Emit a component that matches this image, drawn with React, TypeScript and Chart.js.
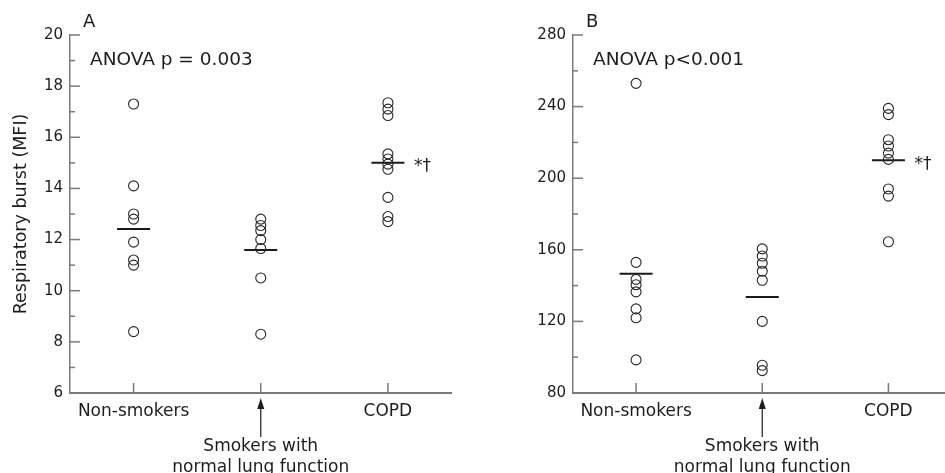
import React, { useEffect, useRef } from 'react';
import { Chart, registerables } from 'chart.js';

Chart.register(...registerables);

// ---------- data ----------
const categories = ['Non-smokers', 'Smokers with normal lung function', 'COPD'];
const smokersLabelLines = ['Smokers with', 'normal lung function'];

const burstA_nonSmokers = [17.3, 14.1, 13.0, 12.8, 11.9, 11.2, 11.0, 8.4];
const burstA_smokers = [12.8, 12.55, 12.35, 12.0, 11.65, 10.5, 8.3];
const burstA_copd = [17.35, 17.1, 16.85, 15.35, 15.15, 14.95, 14.75, 13.65, 12.9, 12.7];
const burstA_means = [12.41, 11.59, 15.0];

const burstB_nonSmokers = [253, 153, 143.5, 140.5, 136.5, 127, 122, 98.5];
const burstB_smokers = [160.5, 156.5, 152.5, 148, 143, 120, 95.5, 92.5];
const burstB_copd = [239, 235.5, 221.5, 218, 214, 210.5, 194, 190, 164.5];
const burstB_means = [146.6, 133.6, 210.0];

const yRangeA = [6, 20];
const yStepsA = [2, 1]; // major, minor
const yRangeB = [80, 280];
const yStepsB = [40, 20];

const panelLetters = ['A', 'B'];
const anovaTexts = ['ANOVA p = 0.003', 'ANOVA p<0.001'];
const significanceMark = '*\u2020';
const yTitle = 'Respiratory burst (MFI)';

// ---------- styles ----------
const FONT = "'DejaVu Sans', 'Liberation Sans', sans-serif";
const TEXT = '#1f1c1d';
const AXIS = '#7a7a7a';

const toPoints = (groups: number[][]) =>
  groups.flatMap((vals, i) => vals.map((v) => ({ x: categories[i], y: v })));

const decorPlugin = {
  id: 'decor',
  afterDraw(chart: any, _args: any, opts: any) {
    const ctx = chart.ctx;
    const xs = chart.scales.x;
    const ys = chart.scales.y;
    const { left, bottom, top } = chart.chartArea;
    ctx.save();
    // y ticks (inward)
    ctx.strokeStyle = AXIS;
    ctx.lineWidth = 1.5;
    const [min, max] = opts.range;
    const [major, minor] = opts.steps;
    const ratio = Math.round(major / minor);
    const n = Math.round((max - min) / minor);
    for (let k = 0; k <= n; k++) {
      const v = min + k * minor;
      const y = ys.getPixelForValue(v);
      const len = k % ratio === 0 ? 10 : 5;
      ctx.beginPath();
      ctx.moveTo(left, y);
      ctx.lineTo(left + len, y);
      ctx.stroke();
    }
    // x ticks (inward)
    for (let i = 0; i < categories.length; i++) {
      const x = xs.getPixelForTick(i);
      ctx.beginPath();
      ctx.moveTo(x, bottom);
      ctx.lineTo(x, bottom - 10);
      ctx.stroke();
    }
    ctx.fillStyle = TEXT;
    ctx.strokeStyle = TEXT;
    // panel letter
    ctx.font = `18px ${FONT}`;
    ctx.textAlign = 'left';
    ctx.textBaseline = 'alphabetic';
    ctx.fillText(opts.letter, left + 13, top - 8);
    // ANOVA
    ctx.font = `18.5px ${FONT}`;
    ctx.fillText(opts.anova, left + 20, top + 30);
    // significance mark
    const cx = xs.getPixelForTick(2);
    ctx.font = `17px ${FONT}`;
    ctx.textBaseline = 'middle';
    ctx.fillText(significanceMark, cx + 26, ys.getPixelForValue(opts.means[2]) + 4);
    // smokers label with arrow
    const sx = xs.getPixelForTick(1);
    ctx.lineWidth = 1.2;
    ctx.beginPath();
    ctx.moveTo(sx, bottom + 14);
    ctx.lineTo(sx, bottom + 44);
    ctx.stroke();
    ctx.beginPath();
    ctx.moveTo(sx, bottom + 5);
    ctx.lineTo(sx - 3.5, bottom + 16);
    ctx.lineTo(sx + 3.5, bottom + 16);
    ctx.closePath();
    ctx.fill();
    ctx.font = `17px ${FONT}`;
    ctx.textAlign = 'center';
    ctx.textBaseline = 'alphabetic';
    ctx.fillText(smokersLabelLines[0], sx, bottom + 58);
    ctx.fillText(smokersLabelLines[1], sx, bottom + 79);
    // y title
    if (opts.showTitle) {
      ctx.save();
      ctx.translate(21, (top + bottom) / 2);
      ctx.rotate(-Math.PI / 2);
      ctx.font = `17.5px ${FONT}`;
      ctx.textAlign = 'center';
      ctx.textBaseline = 'middle';
      ctx.fillText(yTitle, 0, 0);
      ctx.restore();
    }
    ctx.restore();
  },
};

function makeConfig(
  groups: number[][],
  means: number[],
  range: number[],
  steps: number[],
  letter: string,
  anova: string,
  yWidth: number,
  padRight: number,
  showTitle: boolean
): any {
  return {
    type: 'scatter',
    data: {
      labels: categories,
      datasets: [
        {
          data: toPoints(groups),
          pointStyle: 'circle',
          pointRadius: 5,
          pointBorderWidth: 1.1,
          pointBorderColor: '#262626',
          pointBackgroundColor: 'rgba(0,0,0,0)',
          showLine: false,
        },
        {
          data: means.map((m, i) => ({ x: categories[i], y: m })),
          pointStyle: 'line',
          pointRadius: 16.5,
          pointBorderWidth: 2,
          pointBorderColor: '#1a1a1a',
          showLine: false,
        },
      ],
    },
    options: {
      responsive: false,
      animation: false,
      events: [],
      layout: { padding: { left: 0, top: 35, right: padRight, bottom: 0 } },
      plugins: {
        legend: { display: false },
        tooltip: { enabled: false },
        decor: { range, steps, letter, anova, means, showTitle },
      },
      scales: {
        x: {
          type: 'category',
          labels: categories,
          offset: true,
          grid: { display: false, drawTicks: false },
          border: { display: true, color: AXIS, width: 2 },
          ticks: {
            autoSkip: false,
            maxRotation: 0,
            padding: 8,
            color: TEXT,
            font: { family: FONT, size: 17 },
            callback: (_v: any, i: number) => (i === 1 ? '' : categories[i]),
          },
          afterFit: (s: any) => {
            s.height = 80;
          },
        },
        y: {
          type: 'linear',
          min: range[0],
          max: range[1],
          grid: { display: false, drawTicks: false },
          border: { display: true, color: AXIS, width: 1.5 },
          ticks: {
            stepSize: steps[0],
            padding: 7,
            color: TEXT,
            font: { family: FONT, size: 15 },
          },
          afterFit: (s: any) => {
            s.width = yWidth;
          },
        },
      },
    },
    plugins: [decorPlugin],
  };
}

export default function App() {
  const refA = useRef<HTMLCanvasElement>(null);
  const refB = useRef<HTMLCanvasElement>(null);
  useEffect(() => {
    const a = new Chart(
      refA.current as HTMLCanvasElement,
      makeConfig(
        [burstA_nonSmokers, burstA_smokers, burstA_copd],
        burstA_means,
        yRangeA,
        yStepsA,
        panelLetters[0],
        anovaTexts[0],
        70,
        16,
        true
      )
    );
    const b = new Chart(
      refB.current as HTMLCanvasElement,
      makeConfig(
        [burstB_nonSmokers, burstB_smokers, burstB_copd],
        burstB_means,
        yRangeB,
        yStepsB,
        panelLetters[1],
        anovaTexts[1],
        103,
        12,
        false
      )
    );
    return () => {
      a.destroy();
      b.destroy();
    };
  }, []);
  return (
    <div
      style={{
        position: 'fixed',
        left: 0,
        top: 0,
        width: 945,
        height: 473,
        overflow: 'hidden',
        background: '#fff',
      }}
    >
      <canvas
        ref={refA}
        width={470}
        height={473}
        style={{ position: 'absolute', left: 0, top: 0, width: 470, height: 473 }}
      />
      <canvas
        ref={refB}
        width={500}
        height={473}
        style={{ position: 'absolute', left: 470, top: 0, width: 500, height: 473 }}
      />
    </div>
  );
}
